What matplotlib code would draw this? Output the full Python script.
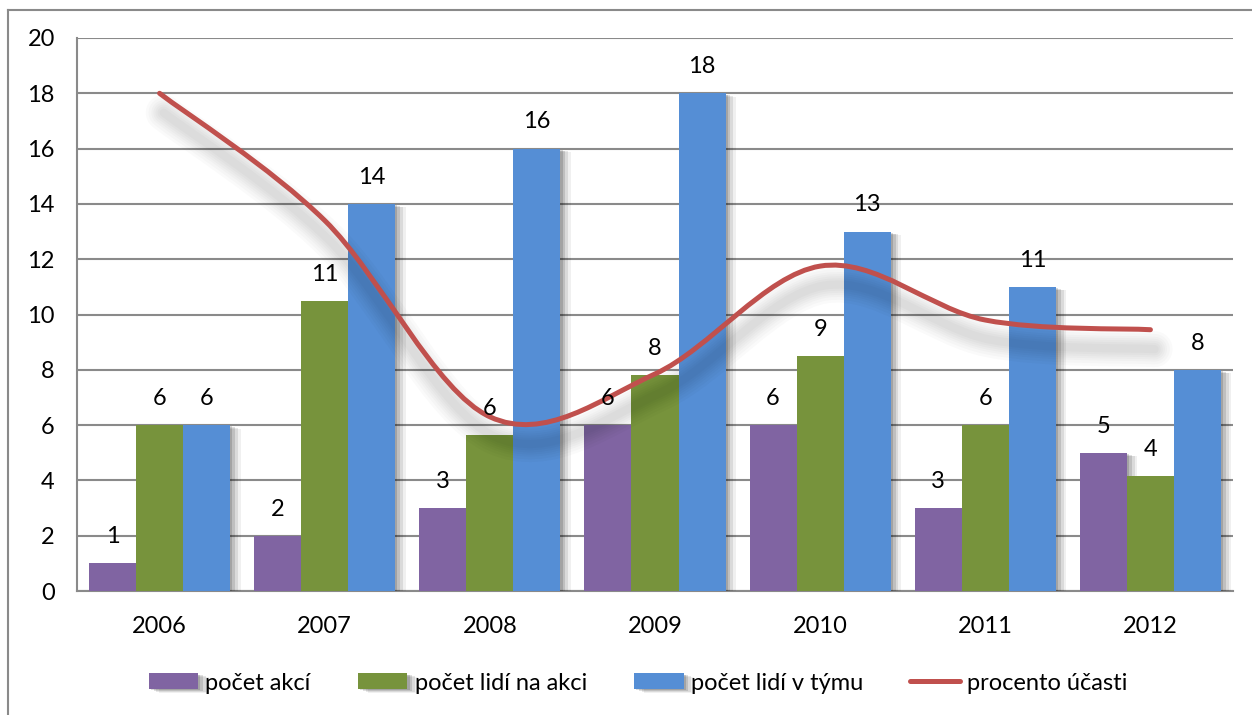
import matplotlib
matplotlib.use("Agg")
import matplotlib.pyplot as plt
from matplotlib.path import Path
from matplotlib.patches import PathPatch
from matplotlib.lines import Line2D
from matplotlib import patheffects as pe

years = ["2006", "2007", "2008", "2009", "2010", "2011", "2012"]
pocet_akci = [1, 2, 3, 6, 6, 3, 5]
pocet_lidi_na_akci = [6, 10.5, 5.65, 7.82, 8.5, 6, 4.17]
pocet_lidi_v_tymu = [6, 14, 16, 18, 13, 11, 8]
procento_ucasti = [18.0, 13.4, 6.3, 7.85, 11.75, 9.8, 9.45]

labels_akci = ["1", "2", "3", "6", "6", "3", "5"]
labels_na_akci = ["6", "11", "6", "8", "9", "6", "4"]
labels_v_tymu = ["6", "14", "16", "18", "13", "11", "8"]

series_names = ["počet akcí", "počet lidí na akci", "počet lidí v týmu", "procento účasti"]
colors = ["#8064A2", "#77933C", "#558ED5", "#C0504D"]

plt.rcParams['font.family'] = ['Lato', 'DejaVu Sans']
FS = 17

fig = plt.figure(figsize=(12.52, 7.15), dpi=100)
ax = fig.add_axes([77/1252, 1-591/715, (1233-77)/1252, (591-38)/715])

w = 0.285
xs = list(range(len(years)))
bar_shadow = [pe.SimplePatchShadow(offset=(1.5, -1), shadow_rgbFace="black", alpha=0.14),
              pe.SimplePatchShadow(offset=(3.5, -1.5), shadow_rgbFace="black", alpha=0.12),
              pe.SimplePatchShadow(offset=(5.5, -2), shadow_rgbFace="black", alpha=0.09),
              pe.SimplePatchShadow(offset=(7.5, -2.5), shadow_rgbFace="black", alpha=0.06),
              pe.Normal()]
all_vals = [pocet_akci, pocet_lidi_na_akci, pocet_lidi_v_tymu]
all_labels = [labels_akci, labels_na_akci, labels_v_tymu]
for j, (vals, labs) in enumerate(zip(all_vals, all_labels)):
    pos = [x + (j - 1) * w for x in xs]
    bars = ax.bar(pos, vals, width=w, color=colors[j], zorder=3, label=series_names[j])
    for b in bars:
        b.set_path_effects(bar_shadow)
    for p, v, l in zip(pos, vals, labs):
        ax.annotate(l, (p, v), xytext=(0, 14.5), textcoords="offset points",
                    ha="center", va="baseline", fontsize=FS, zorder=6)

# smooth line (Bezier through data points)
pts = list(zip(xs, procento_ucasti))
verts = [pts[0]]
codes = [Path.MOVETO]
n = len(pts)
for i in range(n - 1):
    p0 = pts[i - 1] if i > 0 else pts[i]
    p1 = pts[i]
    p2 = pts[i + 1]
    p3 = pts[i + 2] if i + 2 < n else pts[i + 1]
    c1 = (p1[0] + (p2[0] - p0[0]) / 6, p1[1] + (p2[1] - p0[1]) / 6)
    c2 = (p2[0] - (p3[0] - p1[0]) / 6, p2[1] - (p3[1] - p1[1]) / 6)
    verts += [c1, c2, p2]
    codes += [Path.CURVE4] * 3
path = Path(verts, codes)
line_shadow = [pe.SimpleLineShadow(offset=(3, -14), shadow_color="black", alpha=0.018, linewidth=lw)
               for lw in (26, 22, 18, 15, 12, 9, 6)] + [pe.Normal()]
lp = PathPatch(path, fill=False, edgecolor=colors[3], linewidth=3.6, capstyle="round",
               joinstyle="round", zorder=5)
lp.set_path_effects(line_shadow)
ax.add_patch(lp)

ax.set_xlim(-0.5, len(years) - 0.5)
ax.set_ylim(0, 20)
ax.set_yticks(range(0, 21, 2))
ax.set_xticks(xs)
ax.set_xticklabels(years)
ax.tick_params(axis="both", length=0, labelsize=FS, colors="black")
ax.tick_params(axis="y", pad=16)
ax.tick_params(axis="x", pad=18)
ax.yaxis.grid(True, color="#8a8a8a", linewidth=1.5, zorder=0)
ax.set_axisbelow(True)
for s in ["top", "right"]:
    ax.spines[s].set_visible(False)
for s in ["left", "bottom"]:
    ax.spines[s].set_color("#8a8a8a")
    ax.spines[s].set_linewidth(1.5)

handles, labs = ax.get_legend_handles_labels()
handles.append(Line2D([], [], color=colors[3], linewidth=3.6, solid_capstyle="round"))
labs.append(series_names[3])
fig.legend(handles, labs, loc="center", bbox_to_anchor=(638/1252, 1-683/715), ncol=4,
           frameon=False, fontsize=FS, handlelength=2.1, handleheight=0.65,
           handletextpad=0.3, columnspacing=2.0)

# outer frame
fig.add_artist(Line2D([8/1252, 8/1252], [0, 1-10/715], transform=fig.transFigure,
                      color="#8a8a8a", linewidth=1.5))
fig.add_artist(Line2D([8/1252, 1], [1-10/715, 1-10/715], transform=fig.transFigure,
                      color="#8a8a8a", linewidth=1.5))

fig.savefig("out.png", dpi=100)
